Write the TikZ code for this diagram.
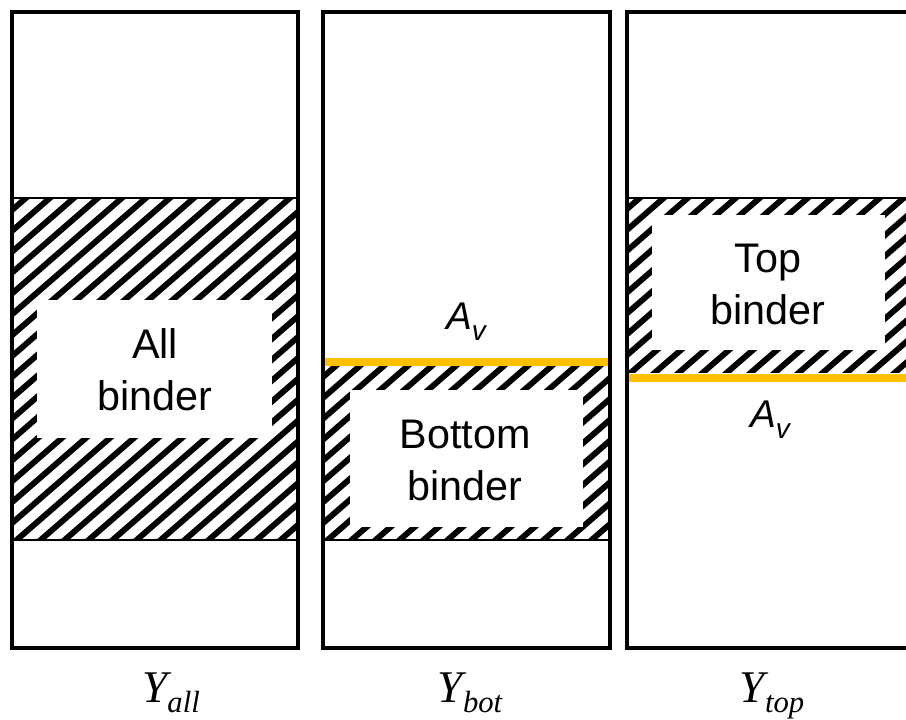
\documentclass[tikz,border=0pt]{standalone}
\usepackage{fontspec}
\setmainfont{Liberation Sans}
\newfontfamily\timesfont{Liberation Serif}
\usetikzlibrary{positioning}
\definecolor{avorange}{HTML}{FFC000}

\tikzset{
  colframe/.style={draw=black, line width=2.5pt},
  splitline/.style={draw=black, line width=1.6pt},
  avline/.style={draw=avorange, line width=6.5pt},
  stripe/.style={draw=black, line width=4.4pt},
  bindertext/.style={align=center, inner sep=0pt, font=\fontsize{31}{39}\selectfont},
  avtext/.style={inner sep=0pt, font=\fontsize{29}{34}\selectfont\itshape},
  ytext/.style={inner sep=0pt, font=\timesfont\fontsize{34}{40}\selectfont\itshape}
}

% hatched block: x1 y1 x2 y2 (pixel units, y downwards)
\newcommand{\hatchfill}[4]{%
  \begin{scope}
    \clip (#1,#2) rectangle (#3,#4);
    \foreach \k in {-20,...,14}
      \draw[stripe] (#1+\k*24,#4+4) -- ++(460,-400);
  \end{scope}}

\newcommand{\subtext}[1]{\raisebox{-0.24em}{\fontsize{23}{23}\selectfont #1}}
\newcommand{\avsub}[1]{\raisebox{-0.28em}{\fontsize{21}{21}\selectfont #1}}

\begin{document}
\begin{tikzpicture}[x=0.75pt, y=-0.75pt]
  \clip (0,0) rectangle (906,720);
  \fill[white] (0,0) rectangle (906,720);

  % column 1: all binder
  \hatchfill{12}{198}{298}{540}
  \fill[white] (37,300) rectangle (272,438);
  \draw[splitline] (12,198) -- (298,198);
  \draw[splitline] (12,540) -- (298,540);
  \draw[colframe] (12,12) rectangle (298,648);
  \node[bindertext] (allbinder) at (155,370) {All\\binder};

  % column 2: bottom binder
  \hatchfill{323}{366}{610}{540}
  \fill[white] (350,390) rectangle (583,527);
  \draw[splitline] (323,540) -- (610,540);
  \draw[avline] (323,362) -- (610,362);
  \draw[colframe] (323,12) rectangle (610,648);
  \node[bindertext] (botbinder) at (465,460) {Bottom\\binder};
  \node[avtext] (avbot) at (466,322) {A\avsub{v}};

  % column 3: top binder
  \hatchfill{627}{198}{915}{372}
  \fill[white] (652,215) rectangle (885,350);
  \draw[splitline] (627,198) -- (915,198);
  \draw[avline] (627,378) -- (915,378);
  \draw[colframe] (627,12) rectangle (930,648);
  \node[bindertext] (topbinder) at (768,284) {Top\\binder};
  \node[avtext] (avtop) at (770,420) {A\avsub{v}};

  % column captions
  \node[ytext, anchor=base] (yall) at (171,702) {Y\subtext{all}};
  \node[ytext, anchor=base] (ybot) at (470,702) {Y\subtext{bot}};
  \node[ytext, anchor=base] (ytop) at (772,702) {Y\subtext{top}};
\end{tikzpicture}
\end{document}
